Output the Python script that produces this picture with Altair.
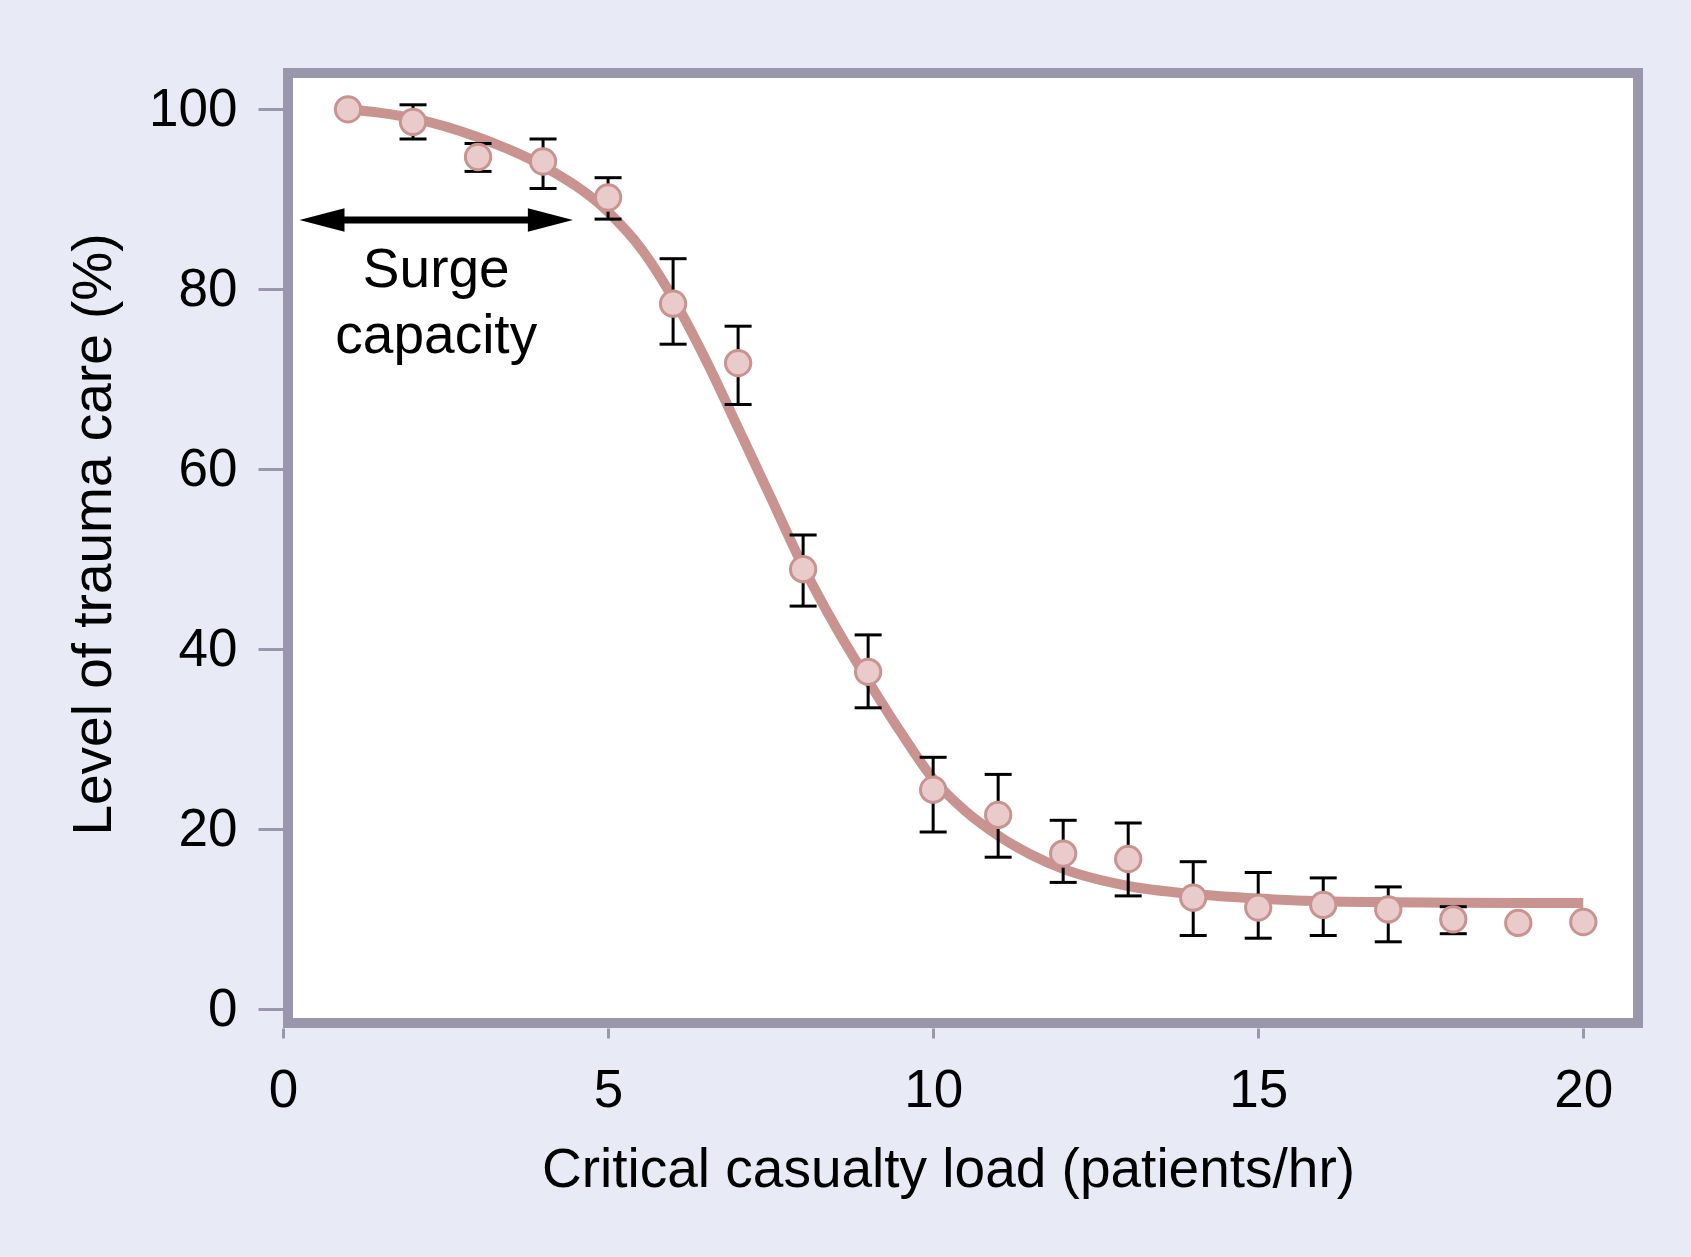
import altair as alt
import pandas as pd

# ---------------- data ----------------
load_x = list(range(1, 21))
care_y = [100.0, 98.6, 94.7, 94.2, 90.2, 78.4, 71.8, 48.9, 37.5, 24.4,
          21.6, 17.3, 16.7, 12.4, 11.3, 11.6, 11.1, 10.0, 9.6, 9.7]

err_x = list(range(2, 19))
err_hi = [100.5, 96.2, 96.7, 92.4, 83.4, 75.9, 52.7, 41.6, 28.0, 26.1,
          21.0, 20.7, 16.4, 15.2, 14.6, 13.6, 11.4]
err_lo = [96.7, 93.1, 91.2, 87.8, 73.9, 67.2, 44.8, 33.5, 19.7, 16.9,
          14.1, 12.6, 8.2, 7.9, 8.2, 7.5, 8.4]

curve_x = [1, 1.5, 2, 3, 4, 5, 5.5, 6, 6.5, 7, 7.5, 8, 8.5, 9, 9.5, 10,
           10.5, 11, 11.5, 12, 13, 14, 15, 16, 17, 18, 19, 20]
curve_y = [100.0, 99.6, 99.0, 96.9, 93.7, 88.6, 84.6, 79.0, 72.2, 64.6,
           56.9, 49.2, 42.5, 36.5, 30.8, 25.6, 22.0, 19.3, 17.2, 15.6,
           13.7, 12.8, 12.3, 12.0, 11.9, 11.85, 11.8, 11.8]

arrow_tip_x = [0.254, 4.459]
arrow_shaft_x = [0.5, 4.2]
arrow_y = 87.7
label_x = 2.357
label_y = 80.3
label_lines = ["Surge", "capacity"]

x_ticks = [0, 5, 10, 15, 20]
y_ticks = [0, 20, 40, 60, 80, 100]
x_title = "Critical casualty load (patients/hr)"
y_title = "Level of trauma care (%)"

# ---------------- styling ----------------
FONT = "Liberation Sans"
LINE_COLOR = "#c9938f"
POINT_FILL = "#e8cbca"
FRAME = "#9a96ab"
BG = "#e8ebf6"

# plot frame (view) spans 288..1638 x 73..1023; axes sit on its outer edge
xscale = alt.Scale(domain=[0, 20], range=[-5, 1295.3], nice=False, zero=False)
yscale = alt.Scale(domain=[0, 100], range=[936.3, 36.3], nice=False, zero=False)

xaxis = alt.Axis(values=x_ticks, title=x_title, grid=False, domain=False,
                 tickColor=FRAME, tickWidth=3, tickSize=10, offset=5,
                 labelFlush=False, labelOverlap=False,
                 labelPadding=26, labelFontSize=53, labelFont=FONT,
                 labelColor="black", titleFontSize=55, titleFont=FONT,
                 titleColor="black", titleFontWeight="normal",
                 titlePadding=26, titleX=660)
yaxis = alt.Axis(values=y_ticks, title=y_title, grid=False, domain=False,
                 tickColor=FRAME, tickWidth=3, tickSize=25, offset=5,
                 labelFlush=False, labelOverlap=False,
                 labelPadding=21, labelFontSize=53, labelFont=FONT,
                 labelColor="black", titleFontSize=55, titleFont=FONT,
                 titleColor="black", titleFontWeight="normal",
                 titlePadding=26, titleY=461)

pts = pd.DataFrame({"x": load_x, "y": care_y})
errs = pd.DataFrame({"x": err_x, "lo": err_lo, "hi": err_hi})
curve = pd.DataFrame({"x": curve_x, "y": curve_y})
arrow_heads = pd.DataFrame({"x": arrow_tip_x, "y": [arrow_y, arrow_y],
                            "dir": ["left", "right"]})
arrow_shaft = pd.DataFrame({"x": [arrow_shaft_x[0]], "x2": [arrow_shaft_x[1]],
                            "y": [arrow_y]})
label_df = pd.DataFrame({"x": [label_x], "y": [label_y]})


def X():
    return alt.X("x:Q", scale=xscale, axis=xaxis)


def Yf(field):
    return alt.Y(f"{field}:Q", scale=yscale, axis=yaxis)


curve_layer = alt.Chart(curve).mark_line(
    color=LINE_COLOR, strokeWidth=10, interpolate="monotone"
).encode(x=X(), y=Yf("y"))

err_rule = alt.Chart(errs).mark_rule(color="black", strokeWidth=3).encode(
    x=X(), y=Yf("lo"), y2="hi:Q")
cap_hi = alt.Chart(errs).mark_tick(orient="horizontal", size=27, thickness=3,
                                   color="black", opacity=1).encode(
    x=X(), y=Yf("hi"))
cap_lo = alt.Chart(errs).mark_tick(orient="horizontal", size=27, thickness=3,
                                   color="black", opacity=1).encode(
    x=X(), y=Yf("lo"))

points = alt.Chart(pts).mark_point(
    filled=True, shape="circle", size=640, fill=POINT_FILL, stroke=LINE_COLOR,
    strokeWidth=3, opacity=1
).encode(x=X(), y=Yf("y"))

shaft = alt.Chart(arrow_shaft).mark_rule(color="black", strokeWidth=7).encode(
    x=X(), x2="x2:Q", y=Yf("y"))
head_left = alt.Chart(arrow_heads[arrow_heads["dir"] == "left"]).mark_point(
    shape="M0,0L2,-0.52L2,0.52Z", size=2025, filled=True, color="black",
    opacity=1, strokeWidth=0
).encode(x=X(), y=Yf("y"))
head_right = alt.Chart(arrow_heads[arrow_heads["dir"] == "right"]).mark_point(
    shape="M0,0L-2,-0.52L-2,0.52Z", size=2025, filled=True, color="black",
    opacity=1, strokeWidth=0
).encode(x=X(), y=Yf("y"))

label = alt.Chart(label_df).mark_text(
    text=label_lines, font=FONT, fontSize=55, align="center",
    baseline="alphabetic", lineHeight=66.7, color="black"
).encode(x=X(), y=Yf("y"))

chart = alt.layer(
    curve_layer, err_rule, cap_hi, cap_lo, points, shaft, head_left,
    head_right, label
).properties(
    width=1350, height=950,
    autosize=alt.AutoSizeParams(type="none"),
    padding={"left": 288, "top": 73, "right": 53, "bottom": 234},
    background=BG,
).configure_view(
    stroke=FRAME, strokeWidth=10, fill="white"
)

chart.save("out.html", embed_options={"renderer": "svg", "actions": False})
